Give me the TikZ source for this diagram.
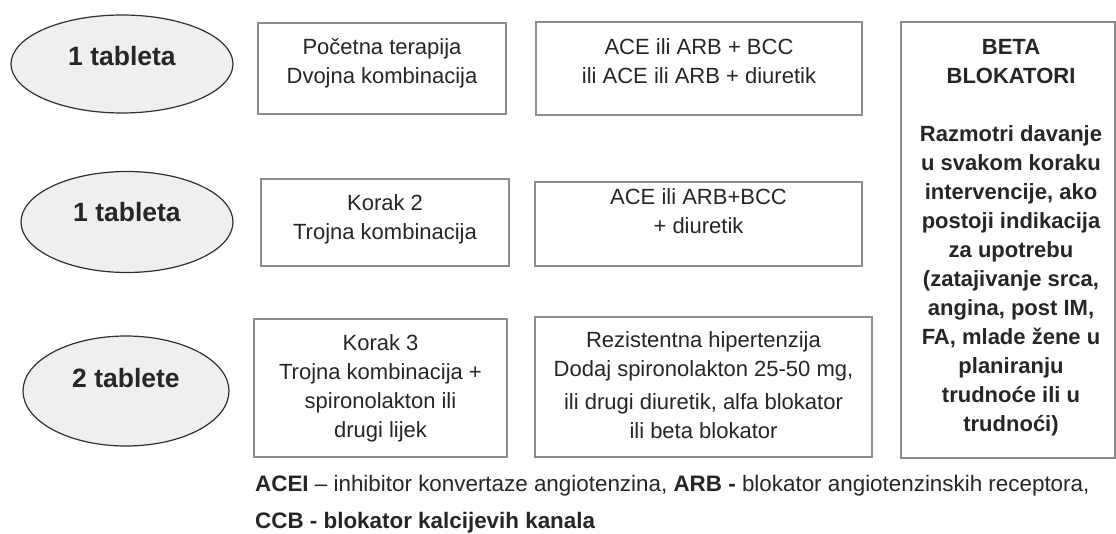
\documentclass[tikz,border=0pt]{standalone}
\usepackage{fontspec}
\setmainfont{Liberation Sans}
\usetikzlibrary{shapes.geometric}
\definecolor{boxgray}{HTML}{8C8C8C}
\definecolor{txt}{HTML}{262626}
\definecolor{ellfill}{HTML}{EFEFEF}
\definecolor{ellline}{HTML}{303030}
\begin{document}
\begin{tikzpicture}[x=1pt,y=-1pt,
  box/.style={draw=boxgray,line width=1.6pt,inner sep=0pt},
  pill/.style={ellipse,draw=ellline,fill=ellfill,line width=1.2pt,inner sep=0pt},
  reg/.style={font=\fontsize{22}{29}\selectfont,text=txt,align=center,inner sep=0pt,anchor=north},
  bld/.style={font=\bfseries\fontsize{22}{29}\selectfont,text=txt,align=center,inner sep=0pt,anchor=north},
  pilltext/.style={font=\bfseries\fontsize{26.5}{30}\selectfont,text=txt,inner sep=0pt,anchor=base},
  legend/.style={font=\fontsize{22.4}{29}\selectfont,text=txt,inner sep=0pt,anchor=base west},
]
\useasboundingbox[fill=white] (0,0) rectangle (1116,534);

% ellipses
\node[pill, minimum width=222pt, minimum height=98pt] (e1) at (122,64) {};
\node[pill, minimum width=212pt, minimum height=101pt] (e2) at (127,222) {};
\node[pill, minimum width=206pt, minimum height=110pt] (e3) at (126,391) {};
\node[pilltext] (e1t) at (122,66) {1 tableta};
\node[pilltext] (e2t) at (127,222) {1 tableta};
\node[pilltext] (e3t) at (126,388) {2 tablete};

% boxes
\node[box, minimum width=248pt, minimum height=91pt] (b11) at (382,68.5) {};
\node[box, minimum width=248pt, minimum height=87pt] (b21) at (385,222.5) {};
\node[box, minimum width=253pt, minimum height=138pt] (b31) at (380.5,388) {};
\node[box, minimum width=326pt, minimum height=93pt] (b12) at (699,68.5) {};
\node[box, minimum width=327pt, minimum height=84pt] (b22) at (698.5,224) {};
\node[box, minimum width=337pt, minimum height=140pt] (b32) at (703.5,387) {};
\node[box, minimum width=214pt, minimum height=436pt] (beta) at (1008,240) {};

% box texts
\node[reg] (t11) at (382,34.2) {\strut Početna terapija\\Dvojna kombinacija};
\node[reg] (t21) at (385,190.2) {\strut Korak 2\\Trojna kombinacija};
\node[reg] (t31) at (380.5,330.2) {\strut Korak 3\\Trojna kombinacija +\\spironolakton ili\\drugi lijek};
\node[reg] (t12) at (699,34.2) {\strut ACE ili ARB + BCC\\ili ACE ili ARB + diuretik};
\node[reg] (t22) at (698.5,184.2) {\strut ACE ili ARB+BCC\\+ diuretik};
\node[reg] (t32) at (703.5,327.2) {\strut Rezistentna hipertenzija\\Dodaj spironolakton 25-50 mg,\\[4pt]ili drugi diuretik, alfa blokator\\ili beta blokator};
\node[bld] (tbeta) at (1011,34.2) {\strut BETA\\BLOKATORI\\[29pt]Razmotri davanje\\u svakom koraku\\intervencije, ako\\postoji indikacija\\za upotrebu\\(zatajivanje srca,\\angina, post IM,\\FA, mlade žene u\\planiranju\\trudnoće ili u\\trudnoći)};

% legend
\node[legend] (leg1) at (255,491) {\textbf{ACEI} – inhibitor konvertaze angiotenzina, \textbf{ARB -} blokator angiotenzinskih receptora,};
\node[legend] (leg2) at (255,528) {\textbf{CCB - blokator kalcijevih kanala}};
\end{tikzpicture}
\end{document}
